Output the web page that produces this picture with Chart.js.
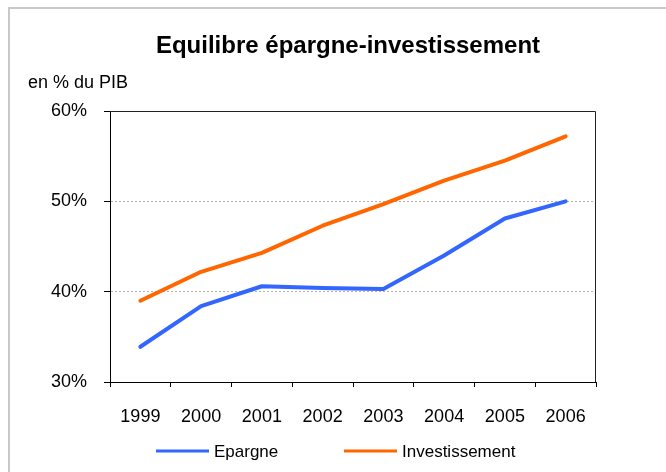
<!DOCTYPE html>
<html>
<head>
<meta charset="utf-8">
<title>Equilibre épargne-investissement</title>
<script src="https://cdn.jsdelivr.net/npm/chart.js@4.4.1/dist/chart.umd.min.js"></script>
<style>
    body { margin: 0; background: #ffffff; }
    #wrap { position: relative; width: 666px; height: 472px; }
</style>
</head>
<body>
<div id="wrap"><canvas id="line-Chart"></canvas></div>
<script>
// dati (en % du PIB)
var annees = ['1999', '2000', '2001', '2002', '2003', '2004', '2005', '2006'];
var epargne = [33.9, 38.4, 40.6, 40.4, 40.3, 44.0, 48.1, 50.0];
var investissement = [39.0, 42.2, 44.3, 47.3, 49.7, 52.3, 54.5, 57.2];
var yTicks = [30, 40, 50, 60];

var titre = 'Equilibre épargne-investissement';
var sousTitre = 'en % du PIB';
var police = "'Liberation Sans', Arial, sans-serif";

// titolo, sottotitolo, cornice e legenda disegnati a mano
var decor = {
    id: 'decor',
    beforeDraw: function (chart) {
        var ctx = chart.ctx;
        ctx.save();
        ctx.strokeStyle = '#c8c8c8';
        ctx.lineWidth = 2;
        ctx.beginPath();
        ctx.moveTo(9, chart.height);
        ctx.lineTo(9, 8);
        ctx.lineTo(chart.width, 8);
        ctx.stroke();
        ctx.restore();
    },
    beforeDatasetsDraw: function (chart) {
        var ctx = chart.ctx;
        var a = chart.chartArea;
        ctx.save();
        ctx.strokeStyle = '#222222';
        ctx.lineWidth = 1;
        ctx.beginPath();
        ctx.moveTo(a.left, a.top + 0.5);
        ctx.lineTo(a.right - 0.5, a.top + 0.5);
        ctx.lineTo(a.right - 0.5, a.bottom);
        ctx.stroke();
        ctx.restore();
    },
    afterDraw: function (chart) {
        var ctx = chart.ctx;
        ctx.save();
        ctx.fillStyle = '#000000';
        ctx.textBaseline = 'alphabetic';

        ctx.font = 'bold 24px ' + police;
        ctx.textAlign = 'center';
        ctx.fillText(titre, 348, 53);

        ctx.font = '18px ' + police;
        ctx.textAlign = 'left';
        ctx.fillText(sousTitre, 28, 88);

        ctx.font = '17px ' + police;
        var legendeX = [156, 344];
        chart.data.datasets.forEach(function (ds, i) {
            var x = legendeX[i];
            ctx.strokeStyle = ds.borderColor;
            ctx.lineWidth = 3;
            ctx.beginPath();
            ctx.moveTo(x, 451);
            ctx.lineTo(x + 53, 451);
            ctx.stroke();
            ctx.fillStyle = '#000000';
            ctx.fillText(ds.label, x + 58, 457);
        });
        ctx.restore();
    }
};

var ctx = document.getElementById('line-Chart');
var chart = new Chart(ctx, {
    type: 'line',
    data: {
        labels: annees,
        datasets: [{
            label: 'Epargne',
            borderColor: '#3366ff',
            backgroundColor: '#3366ff',
            borderWidth: 4,
            borderCapStyle: 'round',
            borderJoinStyle: 'round',
            pointRadius: 0,
            tension: 0,
            data: epargne
        }, {
            label: 'Investissement',
            borderColor: '#ff6600',
            backgroundColor: '#ff6600',
            borderWidth: 4,
            borderCapStyle: 'round',
            borderJoinStyle: 'round',
            pointRadius: 0,
            tension: 0,
            data: investissement
        }]
    },
    options: {
        responsive: true,
        maintainAspectRatio: false,
        animation: false,
        layout: {
            padding: { top: 111, right: 70, bottom: 50, left: 0 }
        },
        plugins: {
            legend: { display: false },
            title: { display: false },
            tooltip: { enabled: false }
        },
        scales: {
            x: {
                offset: true,
                grid: {
                    offset: true,
                    drawOnChartArea: false,
                    drawTicks: true,
                    tickLength: 5,
                    tickColor: '#000000'
                },
                border: { color: '#000000', width: 1 },
                ticks: {
                    color: '#000000',
                    padding: 19,
                    maxRotation: 0,
                    font: { family: police, size: 18 }
                },
                afterFit: function (scale) { scale.height = 40; }
            },
            y: {
                min: yTicks[0],
                max: yTicks[yTicks.length - 1],
                afterBuildTicks: function (scale) {
                    scale.ticks = yTicks.map(function (v) { return { value: v }; });
                },
                grid: {
                    color: function (c) {
                        if (c.tick && (c.tick.value === yTicks[0] || c.tick.value === yTicks[yTicks.length - 1])) {
                            return 'rgba(0,0,0,0)';
                        }
                        return '#b4b4b4';
                    },
                    tickColor: '#000000',
                    tickLength: 6,
                    lineWidth: 1
                },
                border: { color: '#000000', width: 1, dash: [2, 2] },
                ticks: {
                    color: '#000000',
                    padding: 17,
                    font: { family: police, size: 18 },
                    callback: function (v) { return v + '%'; }
                },
                afterFit: function (scale) { scale.width = 110; }
            }
        }
    },
    plugins: [decor]
});
</script>
</body>
</html>
